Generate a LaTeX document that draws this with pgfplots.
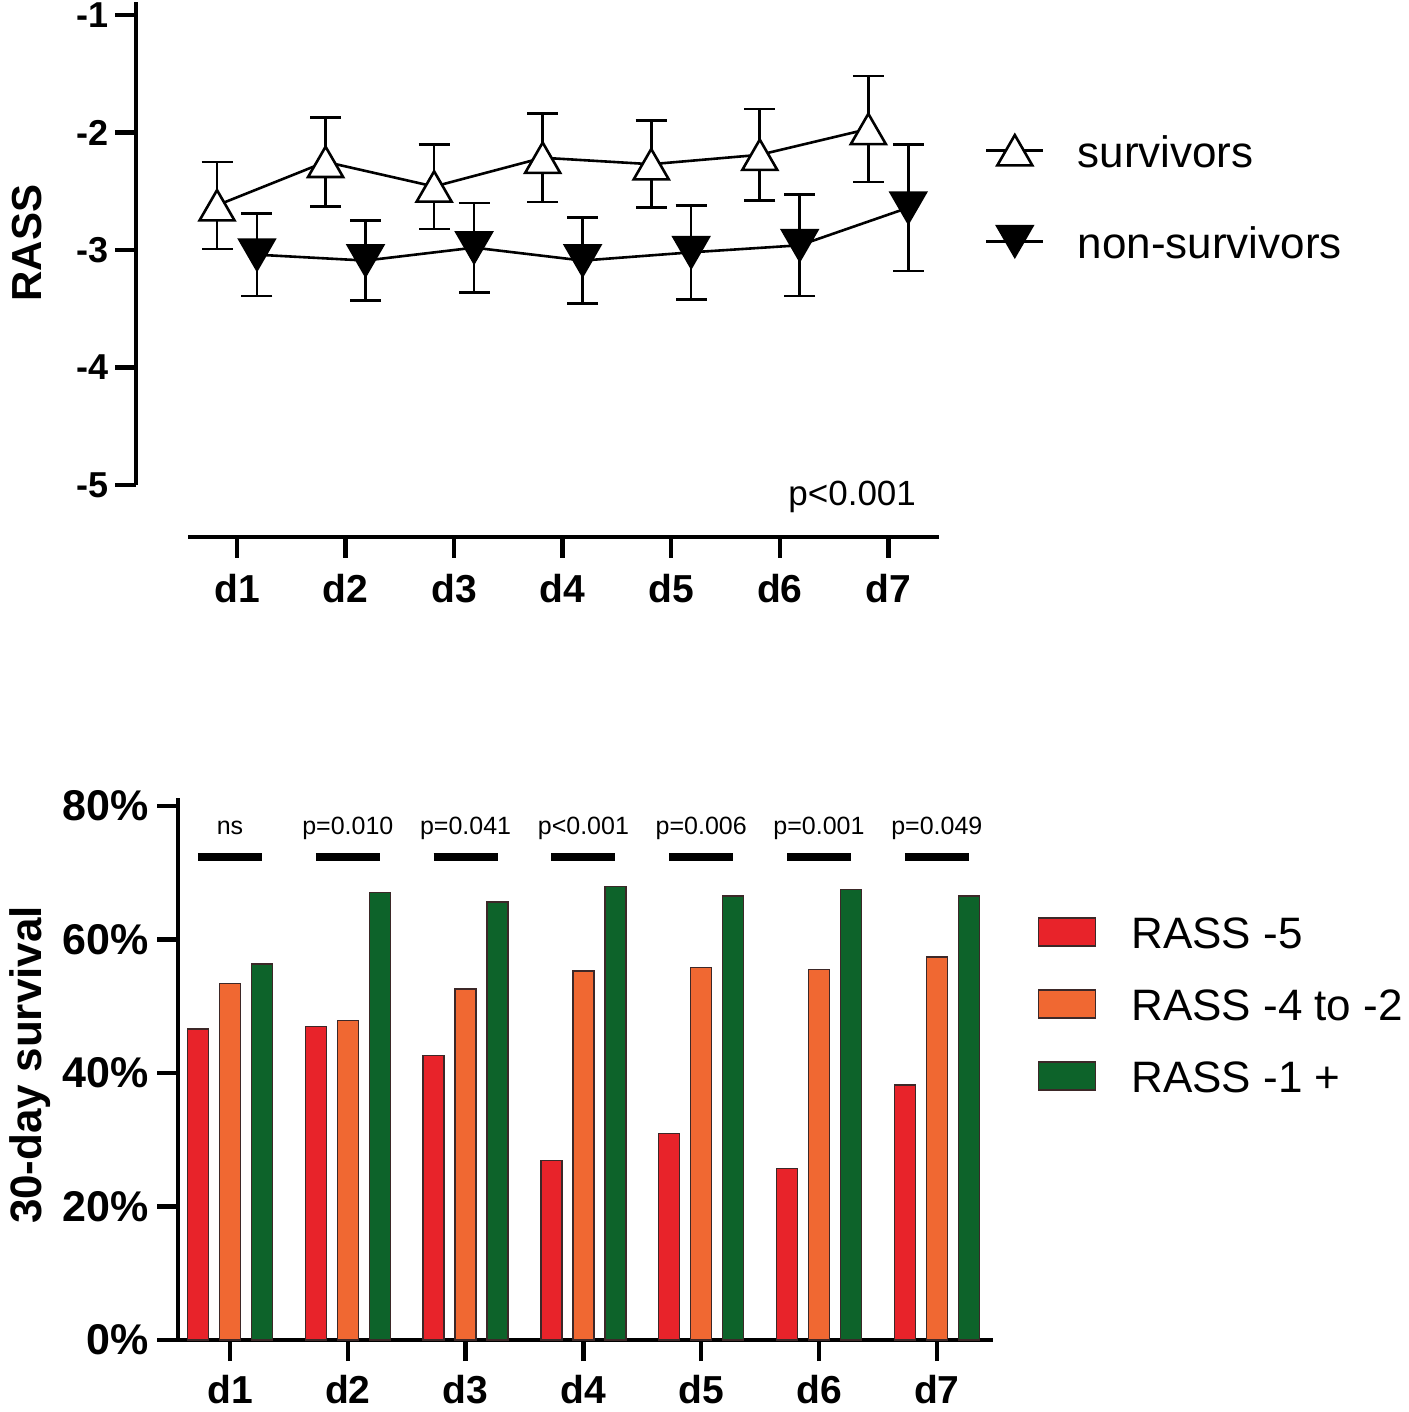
\documentclass[border=0pt]{standalone}
\usepackage{fontspec}
\setmainfont{Liberation Sans}
\usepackage{pgfplots}
\pgfplotsset{compat=1.18}
\definecolor{cred}{RGB}{232,35,42}
\definecolor{corange}{RGB}{240,104,50}
\definecolor{cgreen}{RGB}{13,99,42}
\definecolor{cedge}{RGB}{60,40,40}
\newcommand{\fs}[1]{\fontsize{#1}{#1}\selectfont}
\pgfplotsset{
  prism/.style={
    axis line style={-, line width=2.25pt, black},
    every tick/.style={line width=2.25pt, black},
    major tick length=10.5pt,
    tick align=outside,
    clip=false,
  }
}
\begin{document}
\begin{tikzpicture}
\path[use as bounding box] (0,0) rectangle (704pt,706pt);
% ---------------- top panel ----------------
\begin{axis}[prism, at={(68pt,463.5pt)}, anchor=south west,
  x=54.275pt, y=58.75pt,
  xmin=0.0696, xmax=7.467, ymin=-5, ymax=-0.89,
  axis y line*=left, axis x line=none,
  ytick={-5,-4,-3,-2,-1}, yticklabels={-5,-4,-3,-2,-1},
  yticklabel style={font=\bfseries\fs{18pt}, inner sep=0pt, xshift=-3pt},
  xtick=\empty,
  legend cell align=left,
  legend style={draw=none, fill=none, inner sep=0pt, outer sep=0pt,
    at={(1.0573,0.7329)}, anchor=north west, row sep=24.5pt,
    font=\fs{22pt}, nodes={inner sep=0pt, text height=18pt, text depth=3pt}},
  legend image code/.code={\draw[mark repeat=2, mark phase=2, #1] plot coordinates {(0pt,0.9pt) (14.25pt,0.9pt) (28.5pt,0.9pt)}; \path (45pt,0pt);},
]
\addplot[black, line width=1.3pt, mark=triangle*, mark size=10.1pt,
  mark options={fill=white, line width=1.3pt, yshift=-2.5pt},
  error bars/.cd, y dir=both, y explicit,
  error bar style={line width=1.3pt},
  error mark options={rotate=90, line width=1.3pt, mark size=7.75pt}]
coordinates {
(0.816,-2.62) +- (0,0.37)
(1.816,-2.25) +- (0,0.38)
(2.816,-2.46) +- (0,0.36)
(3.816,-2.215) +- (0,0.375)
(4.816,-2.27) +- (0,0.37)
(5.816,-2.19) +- (0,0.39)
(6.816,-1.97) +- (0,0.45)
};
\addlegendentry{survivors}
\addplot[black, line width=1.3pt, mark=triangle*, mark size=10.1pt,
  mark options={fill=black, line width=1.3pt, yshift=2.5pt, rotate=180},
  error bars/.cd, y dir=both, y explicit,
  error bar style={line width=1.3pt},
  error mark options={rotate=90, line width=1.3pt, mark size=7.75pt}]
coordinates {
(1.184,-3.04) +- (0,0.35)
(2.184,-3.09) +- (0,0.34)
(3.184,-2.98) +- (0,0.38)
(4.184,-3.09) +- (0,0.365)
(5.184,-3.02) +- (0,0.40)
(6.184,-2.96) +- (0,0.43)
(7.184,-2.64) +- (0,0.54)
};
\addlegendentry{non-survivors}
\end{axis}
% top x axis
\begin{axis}[prism, at={(94pt,437.5pt)}, anchor=south west,
  x=54.275pt, y=10pt,
  xmin=0.5486, xmax=7.467, ymin=0, ymax=1,
  axis x line*=bottom, axis y line=none,
  xtick={1,2,3,4,5,6,7}, xticklabels={d1,d2,d3,d4,d5,d6,d7},
  xticklabel style={font=\bfseries\fs{19.5pt}, inner sep=0pt, yshift=-8pt},
  ytick=\empty]
\end{axis}
% ---------------- bottom panel ----------------
\begin{axis}[prism, at={(89pt,36pt)}, anchor=south west,
  x=58.9pt, y=3.3375pt,
  xmin=0.5586, xmax=7.477, ymin=0, ymax=81.2,
  axis x line*=bottom, axis y line*=left,
  ybar, bar width=0.178, bar shift=0pt,
  xtick={1,2,3,4,5,6,7}, xticklabels={d1,d2,d3,d4,d5,d6,d7},
  xticklabel style={font=\bfseries\fs{19.5pt}, inner sep=0pt, yshift=-7pt},
  ytick={0,20,40,60,80}, yticklabels={0\%,20\%,40\%,60\%,80\%},
  yticklabel style={font=\bfseries\fs{21.5pt}, inner sep=0pt, xshift=-4pt},
  legend cell align=left,
  legend style={draw=none, fill=none, inner sep=0pt, outer sep=0pt,
    at={(1.0552,0.7805)}, anchor=north west, row sep=20pt,
    font=\fs{22pt}, nodes={inner sep=0pt, text height=16pt, text depth=0pt}},
  legend image code/.code={\draw[#1] (0pt,-6.6pt) rectangle (28.5pt,7.4pt); \path (46pt,0pt);},
]
\addplot[fill=cred, draw=cedge, line width=0.7pt] coordinates {
(0.7283,46.6) (1.7283,47.0) (2.7283,42.6) (3.7283,26.9) (4.7283,30.9) (5.7283,25.7) (6.7283,38.2)};
\addlegendentry{RASS -5}
\addplot[fill=corange, draw=cedge, line width=0.7pt] coordinates {
(1,53.4) (2,47.9) (3,52.6) (4,55.3) (5,55.8) (6,55.5) (7,57.4)};
\addlegendentry{RASS -4 to -2}
\addplot[fill=cgreen, draw=cedge, line width=0.7pt] coordinates {
(1.2717,56.3) (2.2717,67.0) (3.2717,65.6) (4.2717,67.9) (5.2717,66.5) (6.2717,67.5) (7.2717,66.5)};
\addlegendentry{RASS -1 +}
\foreach \i/\t in {1/ns,2/p=0.010,3/p=0.041,4/p<0.001,5/p=0.006,6/p=0.001,7/p=0.049}{
  \edef\temp{\noexpand\node[font=\noexpand\fs{12.5pt}, anchor=base, inner sep=0pt] at (axis cs:\i,75.66) {\t};
  \noexpand\draw[line width=4pt] (axis cs:\i-0.2717,72.4) -- (axis cs:\i+0.2717,72.4);}
  \temp
}
\end{axis}
% labels
\node[rotate=90, anchor=base, inner sep=0pt, font=\bfseries\fs{21pt}] at (21pt,584.5pt) {RASS};
\node[rotate=90, anchor=base, inner sep=0pt, font=\bfseries\fs{22pt}] at (21pt,173.5pt) {30-day survival};
\node[anchor=base west, inner sep=0pt, font=\fs{17.5pt}] at (394pt,453pt) {p<0.001};
\end{tikzpicture}
\end{document}
